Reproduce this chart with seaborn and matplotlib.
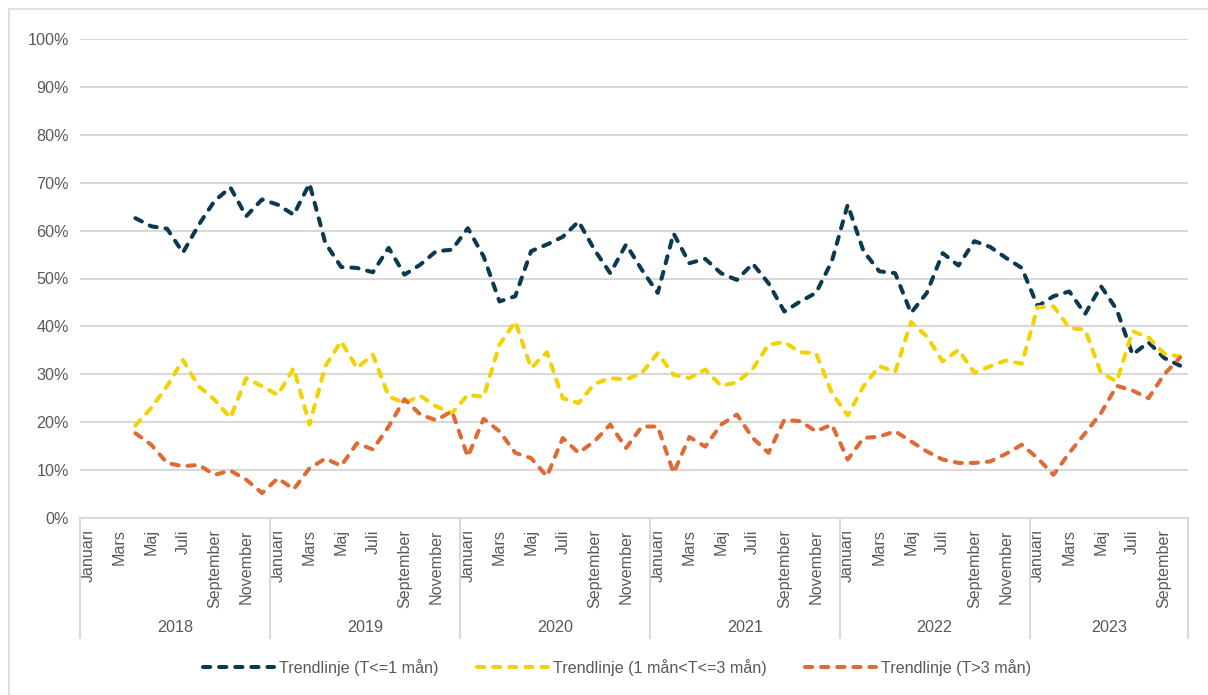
"""
Trendlinjer per ledtidsklass, månadsvis 2018-2023.
"""

import matplotlib.pyplot as plt
import matplotlib.patches as mpatches
import matplotlib.transforms as mtransforms
import numpy as np
import pandas as pd
import seaborn as sns

# Månader (Jan 2018 = index 0), data från april 2018 till oktober 2023
years = [2018, 2019, 2020, 2021, 2022, 2023]
month_names = ["Januari", "Februari", "Mars", "April", "Maj", "Juni", "Juli",
               "Augusti", "September", "Oktober", "November", "December"]
n_months = 70
first_month = 3

short_lead = [62.6, 60.9, 60.4, 55.4, 61.2, 66.2, 69.0, 63.0, 66.5, 65.4,
              63.3, 69.8, 57.4, 52.4, 52.2, 51.3, 56.4, 50.8, 52.9, 55.7,
              56.0, 60.5, 54.6, 45.2, 46.3, 55.7, 57.1, 58.7, 61.9, 56.0,
              51.1, 57.1, 51.8, 47.0, 59.4, 53.2, 54.1, 51.1, 49.7, 53.1,
              49.0, 43.1, 45.2, 47.0, 53.6, 65.4, 55.7, 51.5, 51.1, 42.8,
              47.0, 55.3, 52.7, 57.8, 56.6, 54.3, 52.2, 44.2, 46.3, 47.3,
              42.6, 48.4, 43.5, 34.1, 36.7, 33.4, 31.8]

mid_lead = [19.3, 23.0, 27.5, 33.0, 27.5, 24.7, 20.9, 29.2, 27.5, 25.7,
            31.3, 19.5, 31.7, 36.9, 31.3, 34.1, 25.4, 24.0, 25.5, 23.3,
            21.9, 25.7, 25.3, 36.2, 41.0, 31.3, 34.6, 25.0, 24.0, 28.0,
            29.2, 28.9, 30.3, 34.4, 29.9, 29.2, 31.0, 27.6, 28.3, 31.1,
            36.2, 36.7, 34.6, 34.4, 26.1, 21.4, 27.5, 31.7, 30.5, 40.9,
            37.9, 32.7, 35.1, 30.3, 31.7, 32.9, 32.2, 44.0, 44.2, 39.7,
            39.3, 30.3, 28.5, 39.0, 37.7, 34.3, 33.7]

long_lead = [17.7, 15.3, 11.5, 10.8, 11.1, 9.0, 9.9, 8.0, 5.2, 8.3,
             6.0, 10.4, 12.4, 10.9, 15.6, 14.3, 19.1, 24.8, 21.6, 20.4,
             22.3, 12.8, 20.7, 18.1, 13.6, 12.5, 8.7, 16.7, 13.6, 16.0,
             19.5, 14.6, 19.1, 19.1, 9.4, 16.9, 14.9, 19.5, 21.6, 16.7,
             13.6, 20.5, 20.2, 18.1, 19.5, 12.2, 16.7, 17.0, 18.1, 16.0,
             13.9, 12.2, 11.5, 11.5, 11.8, 13.4, 15.3, 12.5, 9.0, 13.6,
             17.7, 21.9, 27.6, 26.6, 25.0, 30.0, 33.5]

series_names = ["Trendlinje (T<=1 mån)", "Trendlinje (1 mån<T<=3 mån)", "Trendlinje (T>3 mån)"]
colors = ["#0B3A50", "#F2D200", "#DE6B33"]

GRID = "#D9D9D9"
TEXT = "#595959"
FS = 11.6
LW = 2.9
DASH = (1.8, 2.2)

sns.set_theme(style="white")
plt.rcParams['font.family'] = ['Liberation Sans', 'DejaVu Sans']

month_idx = np.arange(first_month, n_months)
df = pd.concat([
    pd.DataFrame({"month": month_idx, "value": vals, "serie": name})
    for name, vals in zip(series_names, [short_lead, mid_lead, long_lead])
])

fig = plt.figure(figsize=(12.08, 6.95), dpi=100)
ax = fig.add_axes([80 / 1208, 1 - 518 / 695, 1108 / 1208, 479 / 695])

sns.lineplot(data=df, x="month", y="value", hue="serie", palette=colors,
             estimator=None, sort=False, linewidth=LW, ax=ax, legend=False)

for line in ax.get_lines():
    line.set_dashes(DASH)
    line.set_dash_capstyle('round')

ax.set_xlim(-0.5, n_months - 0.5)
ax.set_ylim(0, 100)
ax.set_yticks(np.arange(0, 101, 10))
ax.set_yticklabels([f"{v}%" for v in range(0, 101, 10)], color=TEXT, fontsize=FS)
ax.yaxis.grid(True, color=GRID, linewidth=1.5)
ax.set_axisbelow(True)
for side in ['left', 'right', 'top']:
    ax.spines[side].set_visible(False)
ax.spines['bottom'].set_color(GRID)
ax.spines['bottom'].set_linewidth(1.5)
ax.tick_params(axis='y', length=0, pad=8)

# månadsetiketter, varannan månad
ticks = np.arange(0, n_months, 2)
ax.set_xticks(ticks)
ax.set_xticklabels([month_names[t % 12] for t in ticks], rotation=90,
                   color=TEXT, fontsize=FS, va='top')
ax.tick_params(axis='x', length=0, pad=8)
ax.set_xlabel("")
ax.set_ylabel("")

# årsgrupper under axeln
trans = mtransforms.blended_transform_factory(ax.transData, ax.transAxes)
bounds = [min(12 * k, n_months) - 0.5 for k in range(len(years) + 1)]
for b in bounds:
    ax.plot([b, b], [0, -0.25], color=GRID, linewidth=1.5, transform=trans,
            clip_on=False)
for k, yr in enumerate(years):
    ax.text((bounds[k] + bounds[k + 1]) / 2, -0.228, str(yr), transform=trans,
            ha='center', va='center', color=TEXT, fontsize=FS)

handles = [plt.Line2D([], [], color=c, linewidth=LW, dashes=DASH,
                      dash_capstyle='round') for c in colors]
fig.legend(handles, series_names, loc='center', bbox_to_anchor=(0.511, 0.04),
           ncol=3, frameon=False, handlelength=4.4, handletextpad=0.3,
           columnspacing=2.4, labelcolor=TEXT, prop={'size': FS})

fig.add_artist(mpatches.Rectangle((9 / 1208, -0.1), 1.1, 1.1 - 9 / 695,
                                  transform=fig.transFigure, fill=False,
                                  edgecolor=GRID, linewidth=1.2))

fig.savefig("out.png", dpi=100)
plt.close(fig)
